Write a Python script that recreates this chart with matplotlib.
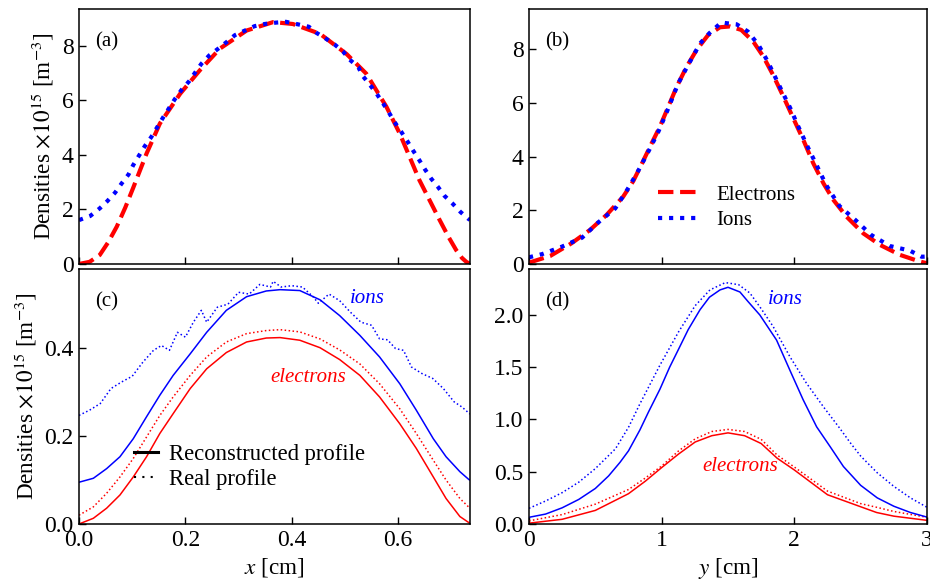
import matplotlib
matplotlib.use("Agg")
import matplotlib.pyplot as plt
from matplotlib.lines import Line2D
from matplotlib.ticker import FormatStrFormatter

plt.rcParams['font.family'] = ['Liberation Serif', 'DejaVu Serif']
plt.rcParams['mathtext.fontset'] = 'stix'

# ---------------- Panel (a): x profile, densities x1e15 ----------------
xa_e = [0.0, 0.02, 0.039, 0.055, 0.071, 0.087, 0.102, 0.127, 0.152, 0.19, 0.227, 0.265,
        0.315, 0.365, 0.402, 0.453, 0.503, 0.54, 0.578, 0.603, 0.64, 0.678, 0.695,
        0.709, 0.72, 0.728, 0.735]
na_e = [0.0, 0.08, 0.33, 0.8, 1.37, 2.07, 2.8, 4.05, 5.15, 6.24, 7.1, 7.9,
        8.56, 8.87, 8.8, 8.44, 7.7, 6.98, 5.76, 4.78, 3.07, 1.61, 0.98,
        0.51, 0.22, 0.08, 0.0]
xa_i = [0.0, 0.021, 0.039, 0.053, 0.068, 0.08, 0.093, 0.102, 0.124, 0.136, 0.158,
        0.18, 0.193, 0.207, 0.218, 0.23, 0.245, 0.26, 0.277, 0.293, 0.312, 0.33,
        0.349, 0.37, 0.389, 0.411, 0.432, 0.446, 0.462, 0.481, 0.496, 0.509, 0.525,
        0.534, 0.548, 0.56, 0.572, 0.583, 0.593, 0.606, 0.617, 0.628, 0.639, 0.65,
        0.662, 0.675, 0.687, 0.702, 0.717, 0.731, 0.735]
na_i = [1.61, 1.76, 2.04, 2.3, 2.62, 2.95, 3.28, 3.63, 4.33, 4.66, 5.37,
        6.04, 6.39, 6.7, 7.01, 7.34, 7.65, 7.87, 8.13, 8.39, 8.56, 8.72,
        8.8, 8.85, 8.88, 8.79, 8.7, 8.48, 8.29, 8.04, 7.8, 7.49, 7.22,
        6.88, 6.54, 6.23, 5.88, 5.54, 5.21, 4.84, 4.51, 4.16, 3.83, 3.48,
        3.13, 2.82, 2.5, 2.22, 1.91, 1.67, 1.62]

# ---------------- Panel (b): y profile ----------------
yb_e = [0.0, 0.16, 0.32, 0.46, 0.585, 0.71, 0.786, 0.85, 0.925, 0.987, 1.05, 1.113,
        1.188, 1.264, 1.35, 1.44, 1.515, 1.6, 1.69, 1.766, 1.84, 1.917, 1.992, 2.068,
        2.143, 2.22, 2.294, 2.394, 2.52, 2.646, 2.796, 2.947, 3.0]
nb_e = [0.05, 0.3, 0.77, 1.27, 1.83, 2.51, 3.09, 3.73, 4.5, 5.12, 5.86, 6.6,
        7.35, 7.98, 8.53, 8.82, 8.85, 8.72, 8.29, 7.73, 7.04, 6.24, 5.43, 4.62,
        3.75, 3.0, 2.39, 1.76, 1.14, 0.71, 0.34, 0.09, 0.03]
yb_i = [0.0, 0.1, 0.25, 0.4, 0.52, 0.65, 0.74, 0.82, 0.9, 0.975, 1.04, 1.125, 1.2,
        1.29, 1.36, 1.45, 1.49, 1.565, 1.65, 1.73, 1.8, 1.89, 1.97, 2.03, 2.1,
        2.17, 2.24, 2.34, 2.46, 2.58, 2.72, 2.87, 2.96, 3.0]
nb_i = [0.25, 0.37, 0.65, 0.98, 1.54, 2.07, 2.76, 3.44, 4.19, 4.93, 5.68, 6.73, 7.42,
        8.22, 8.6, 9.0, 8.97, 8.93, 8.66, 8.16, 7.54, 6.61, 5.8, 5.12, 4.37,
        3.66, 2.94, 2.16, 1.64, 1.08, 0.67, 0.5, 0.27, 0.28]

# ---------------- Panel (c): x profile, reconstructed vs real ----------------
xc = [0.0, 0.027, 0.052, 0.077, 0.102, 0.127, 0.152, 0.177, 0.209, 0.24, 0.277,
      0.315, 0.352, 0.378, 0.415, 0.453, 0.49, 0.528, 0.565, 0.603, 0.634, 0.666,
      0.69, 0.716, 0.733, 0.735]
nc_e_rec = [0.0, 0.013, 0.036, 0.066, 0.107, 0.153, 0.206, 0.251, 0.308, 0.353, 0.39,
            0.414, 0.423, 0.424, 0.418, 0.401, 0.374, 0.338, 0.289, 0.228, 0.172, 0.107,
            0.058, 0.017, 0.003, 0.0]
nc_e_real = [0.02, 0.039, 0.07, 0.107, 0.149, 0.198, 0.247, 0.289, 0.338, 0.38, 0.414,
             0.433, 0.44, 0.442, 0.437, 0.421, 0.396, 0.364, 0.319, 0.262, 0.206, 0.145,
             0.1, 0.058, 0.038, 0.036]
nc_i_rec = [0.095, 0.104, 0.126, 0.153, 0.194, 0.244, 0.293, 0.338, 0.387, 0.436, 0.486,
            0.517, 0.53, 0.533, 0.531, 0.51, 0.474, 0.429, 0.38, 0.319, 0.259, 0.194,
            0.153, 0.119, 0.101, 0.1]
xc_i_real = [0.0, 0.02, 0.04, 0.06, 0.08, 0.1, 0.12, 0.14, 0.155, 0.17, 0.185, 0.2,
             0.215, 0.23, 0.24, 0.26, 0.28, 0.3, 0.32, 0.34, 0.36, 0.365, 0.38, 0.4,
             0.42, 0.44, 0.45, 0.47, 0.49, 0.51, 0.53, 0.55, 0.565, 0.58, 0.595, 0.61,
             0.625, 0.645, 0.665, 0.685, 0.705, 0.72, 0.735]
nc_i_real = [0.247, 0.259, 0.274, 0.308, 0.323, 0.336, 0.368, 0.395, 0.406, 0.395, 0.436,
             0.425, 0.459, 0.486, 0.459, 0.493, 0.5, 0.527, 0.523, 0.545, 0.539, 0.552,
             0.539, 0.542, 0.539, 0.517, 0.502, 0.523, 0.508, 0.482, 0.459, 0.452, 0.421,
             0.419, 0.399, 0.395, 0.357, 0.342, 0.331, 0.308, 0.278, 0.266, 0.25]

# ---------------- Panel (d): y profile, reconstructed vs real ----------------
yd_i_rec = [0.0, 0.125, 0.25, 0.375, 0.5, 0.6, 0.686, 0.75, 0.836, 0.9, 0.987, 1.06,
            1.138, 1.2, 1.289, 1.36, 1.44, 1.5, 1.59, 1.65, 1.74, 1.866, 1.967, 2.066,
            2.168, 2.27, 2.37, 2.5, 2.625, 2.75, 2.875, 3.0]
nd_i_rec = [0.064, 0.095, 0.155, 0.235, 0.34, 0.46, 0.59, 0.70, 0.9, 1.07, 1.29, 1.5,
            1.70, 1.86, 2.05, 2.17, 2.24, 2.265, 2.22, 2.13, 2.0, 1.76, 1.47, 1.19,
            0.93, 0.74, 0.55, 0.37, 0.25, 0.17, 0.11, 0.066]
yd_i_real = [0.0, 0.125, 0.25, 0.375, 0.5, 0.652, 0.752, 0.836, 0.877, 0.987, 1.128,
             1.253, 1.364, 1.48, 1.58, 1.665, 1.75, 1.84, 1.967, 2.09, 2.22, 2.34,
             2.42, 2.5, 2.625, 2.75, 2.875, 3.0]
nd_i_real = [0.15, 0.22, 0.30, 0.40, 0.53, 0.72, 0.93, 1.15, 1.25, 1.52, 1.84,
             2.09, 2.24, 2.31, 2.29, 2.21, 2.06, 1.89, 1.6, 1.35, 1.12, 0.92,
             0.78, 0.65, 0.49, 0.36, 0.25, 0.16]
yd_e = [0.0, 0.25, 0.5, 0.75, 0.877, 1.0, 1.128, 1.253, 1.378, 1.5, 1.625, 1.75,
        1.87, 2.0, 2.25, 2.5, 2.62, 2.75, 3.0]
nd_e_rec = [0.008, 0.045, 0.13, 0.29, 0.41, 0.54, 0.67, 0.785, 0.845, 0.872, 0.845,
            0.77, 0.63, 0.517, 0.28, 0.165, 0.11, 0.075, 0.035]
nd_e_real = [0.03, 0.09, 0.19, 0.33, 0.44, 0.555, 0.7, 0.815, 0.885, 0.905, 0.885,
             0.81, 0.66, 0.545, 0.315, 0.195, 0.16, 0.12, 0.064]

RED = '#ff0000'
BLUE = '#0000ff'
TICK_FS = 17
LABEL_FS = 16.7
TXT_FS = 15
DOT = (0, (1, 1.6))

fig = plt.figure(figsize=(9.3, 5.87), dpi=100)
L1, W1 = 79 / 930, (470 - 79) / 930
L2, W2 = 529 / 930, (927 - 529) / 930
H = 255 / 587
B_top = 1 - 264 / 587
B_bot = 1 - 524 / 587

ax_a = fig.add_axes([L1, B_top, W1, H])
ax_b = fig.add_axes([L2, B_top, W2, H])
ax_c = fig.add_axes([L1, B_bot, W1, H], sharex=ax_a)
ax_d = fig.add_axes([L2, B_bot, W2, H], sharex=ax_b)

for ax in (ax_a, ax_b, ax_c, ax_d):
    ax.tick_params(direction='in', length=5, width=1, labelsize=TICK_FS,
                   top=False, right=False, pad=4)
    for s in ax.spines.values():
        s.set_linewidth(1.1)

# (a)
ax_a.plot(xa_e, na_e, color=RED, lw=3, ls='--', label='Electrons')
ax_a.plot(xa_i, na_i, color=BLUE, lw=3, ls=':', label='Ions')
ax_a.set_xlim(0, 0.735)
ax_a.set_ylim(0, 9.35)
ax_a.set_yticks([0, 2, 4, 6, 8])
ax_a.set_xticks([0.0, 0.2, 0.4, 0.6])
ax_a.tick_params(labelbottom=False)
ax_a.set_ylabel('Densities $\\times10^{15}$ [m$^{-3}$]', fontsize=LABEL_FS)
ax_a.text(0.04, 0.87, '(a)', transform=ax_a.transAxes, fontsize=TXT_FS, va='center')

# (b)
ax_b.plot(yb_e, nb_e, color=RED, lw=3, ls='--', label='Electrons')
ax_b.plot(yb_i, nb_i, color=BLUE, lw=3, ls=':', label='Ions')
ax_b.set_xlim(0, 3)
ax_b.set_ylim(0, 9.5)
ax_b.set_yticks([0, 2, 4, 6, 8])
ax_b.set_xticks([0, 1, 2, 3])
ax_b.tick_params(labelbottom=False)
ax_b.text(0.04, 0.87, '(b)', transform=ax_b.transAxes, fontsize=TXT_FS, va='center')
ax_b.legend(loc='upper left', bbox_to_anchor=(0.325, 0.31), frameon=False,
            fontsize=TXT_FS, handlelength=1.8, handletextpad=1.0,
            labelspacing=0.3, borderpad=0, borderaxespad=0)

# (c)
ax_c.plot(xc, nc_e_rec, color=RED, lw=1.1)
ax_c.plot(xc, nc_e_real, color=RED, lw=1.1, ls=DOT)
ax_c.plot(xc, nc_i_rec, color=BLUE, lw=1.1)
ax_c.plot(xc_i_real, nc_i_real, color=BLUE, lw=1.1, ls=DOT)
ax_c.set_ylim(0, 0.58)
ax_c.set_yticks([0.0, 0.2, 0.4])
ax_c.yaxis.set_major_formatter(FormatStrFormatter('%.1f'))
ax_c.xaxis.set_major_formatter(FormatStrFormatter('%.1f'))
ax_c.set_xlabel('$x$ [cm]', fontsize=LABEL_FS, labelpad=4)
ax_c.set_ylabel('Densities $\\times10^{15}$ [m$^{-3}$]', fontsize=LABEL_FS)
ax_c.text(0.04, 0.87, '(c)', transform=ax_c.transAxes, fontsize=TXT_FS, va='center')
ax_c.text(0.509, 0.512, 'ions', color=BLUE, style='italic', fontsize=TXT_FS, va='center')
ax_c.text(0.43, 0.334, 'electrons', color=RED, style='italic', fontsize=TXT_FS,
          va='center', ha='center')
h_rec = Line2D([], [], color='black', lw=2.2)
h_real = Line2D([], [], color='black', lw=1.5, ls=(0, (1, 3)))
ax_c.legend([h_rec, h_real], ['Reconstructed profile', 'Real profile'],
            loc='upper left', bbox_to_anchor=(0.14, 0.315), frameon=False,
            fontsize=16.3, handlelength=1.05, handletextpad=0.5,
            labelspacing=0.2, borderpad=0, borderaxespad=0)

# (d)
ax_d.plot(yd_e, nd_e_rec, color=RED, lw=1.1)
ax_d.plot(yd_e, nd_e_real, color=RED, lw=1.1, ls=DOT)
ax_d.plot(yd_i_rec, nd_i_rec, color=BLUE, lw=1.1)
ax_d.plot(yd_i_real, nd_i_real, color=BLUE, lw=1.1, ls=DOT)
ax_d.set_ylim(0, 2.44)
ax_d.set_yticks([0.0, 0.5, 1.0, 1.5, 2.0])
ax_d.yaxis.set_major_formatter(FormatStrFormatter('%.1f'))
ax_d.set_xlabel('$y$ [cm]', fontsize=LABEL_FS, labelpad=4)
ax_d.text(0.04, 0.87, '(d)', transform=ax_d.transAxes, fontsize=TXT_FS, va='center')
ax_d.text(1.8, 2.15, 'ions', color=BLUE, style='italic', fontsize=TXT_FS, va='center')
ax_d.text(1.59, 0.549, 'electrons', color=RED, style='italic', fontsize=TXT_FS,
          va='center', ha='center')

fig.savefig('out.png', dpi=100)
